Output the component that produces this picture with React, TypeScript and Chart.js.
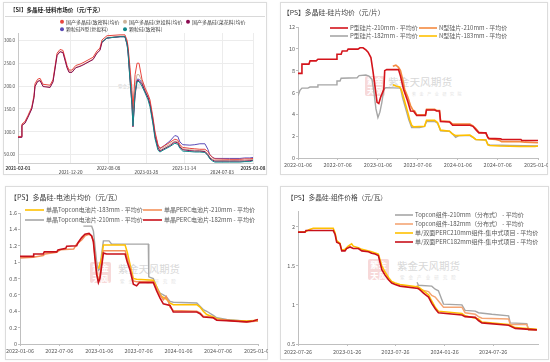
import React, { useEffect, useRef } from 'react';
import { Chart, registerables } from 'chart.js';

Chart.register(...registerables);

const FONT = '"Noto Sans CJK SC", "Noto Sans", "DejaVu Sans", sans-serif';
const AXIS = '#bfbfbf';
const LABEL = '#595959';

// ---------------- 【SI】多晶硅-硅料市场价 ----------------
const polyTitle = '【SI】多晶硅-硅料市场价（元/千克）';
const polyLabels = ['国产多晶硅(致密料)均价', '国产多晶硅(复投料)均价', '国产多晶硅(菜花料)均价', '颗粒硅N型(复投料)', '颗粒硅(致密料)'];
const polyColors = ['#e8463f', '#cdb49b', '#8b0a50', '#5b4bb7', '#11888a'];
const polyDates = [
  '2021-02-01', '2021-02-20', '2021-02-25', '2021-03-16', '2021-04-03', '2021-04-26', '2021-05-10', '2021-05-16', '2021-06-01', '2021-06-16',
  '2021-07-04', '2021-08-16', '2021-09-03', '2021-09-28', '2021-10-16', '2021-11-03', '2021-11-28', '2021-12-10', '2021-12-28', '2022-01-20',
  '2022-02-15', '2022-03-05', '2022-04-05', '2022-05-06', '2022-05-30', '2022-06-17', '2022-06-30', '2022-07-30', '2022-10-18', '2022-11-17',
  '2022-11-30', '2022-12-06', '2022-12-18', '2022-12-30', '2023-01-05', '2023-01-18', '2023-01-30', '2023-02-11', '2023-03-01', '2023-03-20',
  '2023-04-07', '2023-04-19', '2023-05-08', '2023-05-20', '2023-06-07', '2023-06-19', '2023-07-08', '2023-08-19', '2023-09-18', '2023-10-06',
  '2023-10-19', '2023-11-06', '2023-12-19', '2024-01-18', '2024-02-18', '2024-03-20', '2024-04-07', '2024-04-19', '2024-05-07', '2024-05-20',
  '2024-08-19', '2024-10-20', '2024-11-19', '2024-12-20', '2025-01-08',
];
const polyDense = [
  90, 90, 117, 123, 136, 154, 180, 205, 215, 217,
  204, 202, 214, 272, 280, 278, 245, 235, 235, 245,
  248, 251, 257, 263, 277, 283, 301, 310, 312, 312,
  300, 286, 240, 190, 150, 225, 250, 250, 215, 196,
  182, 170, 130, 100, 72, 64, 68, 77, 84, 82,
  72, 66, 64, 63, 62, 62, 57, 50, 44, 41,
  40, 40, 41, 41, 42,
];
const polyRecharge = [
  89, 89, 115, 120, 133, 151, 176, 200, 211, 213,
  200, 198, 210, 268, 276, 274, 241, 231, 231, 241,
  244, 247, 253, 259, 273, 279, 297, 306, 309, 309,
  296, 282, 230, 175, 135, 200, 225, 225, 210, 192,
  178, 165, 125, 95, 68, 60, 65, 73, 80, 78,
  69, 63, 61, 60, 59, 58, 52, 45, 40, 38,
  37, 38, 38, 39, 40,
];
const polyCauli = [
  88, 88, 114, 119, 132, 150, 175, 199, 210, 212,
  199, 197, 209, 267, 275, 273, 240, 230, 230, 240,
  243, 246, 252, 258, 272, 278, 296, 305, 308, 308,
  292, 275, 215, 160, 111, 180, 212, 212, 205, 188,
  175, 160, 120, 90, 65, 58, 62, 70, 78, 76,
  67, 61, 59, 58, 58, 57, 50, 43, 38, 36,
  36, 36, 36, 37, 38,
];
const polyGranN = [
  null, null, null, null, null, null, null, null, null, null,
  null, null, null, null, null, null, null, null, null, null,
  null, null, null, null, null, null, 296, 305, 308, 308,
  293, 278, 222, 170, 125, 190, 215, 215, 208, 190,
  177, 163, 125, 95, 70, 64, 68, 80, 92, 90,
  78, 72, 71, 72, 74, 74, 62, 50, 44, 42,
  42, 42, 43, 43, 44,
];
const polyGran = [
  null, null, null, null, null, null, null, null, null, null,
  null, null, null, null, null, null, null, null, null, null,
  null, null, null, null, null, null, 296, 305, 308, 308,
  290, 272, 212, 158, 113, 185, 210, 210, 200, 185,
  170, 155, 115, 85, 60, 56, 60, 68, 75, 73,
  64, 58, 57, 56, 56, 55, 48, 41, 36, 34,
  34, 34, 35, 35, 37,
];
const polyXTicks = ['2021-02-01', '2021-12-20', '2022-08-08', '2023-03-28', '2023-11-14', '2024-07-03', '2025-01-08'];
const polyYTicks = [50, 100, 150, 200, 250, 300];

// ---------------- 【PS】多晶硅-硅片均价 ----------------
const waferTitle = '【PS】多晶硅-硅片均价（元/片）';
const waferLabels = ['P型硅片-210mm - 平均价', 'N型硅片-210mm - 平均价', 'P型硅片-182mm - 平均价', 'N型硅片-183mm - 平均价'];
const waferP210 = [
  ['2022-01-06', 7.75], ['2022-01-20', 7.75], ['2022-01-24', 8.6], ['2022-02-25', 8.6], ['2022-03-02', 8.9], ['2022-03-30', 8.9],
  ['2022-04-07', 9.05], ['2022-06-29', 9.05], ['2022-07-03', 9.5], ['2022-07-22', 9.5], ['2022-07-27', 9.8], ['2022-08-18', 9.8],
  ['2022-08-23', 9.97], ['2022-10-07', 9.97], ['2022-10-16', 10.1], ['2022-10-30', 10.1], ['2022-11-12', 9.9], ['2022-11-22', 9.7],
  ['2022-12-05', 9.2], ['2022-12-14', 8.0], ['2022-12-24', 6.5], ['2023-01-02', 5.1], ['2023-01-10', 5.0], ['2023-01-19', 5.6],
  ['2023-02-02', 6.3], ['2023-02-06', 8.0], ['2023-02-15', 8.1], ['2023-04-10', 8.1], ['2023-04-19', 7.5], ['2023-05-03', 6.3],
  ['2023-05-22', 5.2], ['2023-06-04', 4.3], ['2023-06-18', 4.28], ['2023-07-02', 3.9], ['2023-08-11', 3.9], ['2023-08-16', 4.4],
  ['2023-09-22', 4.4], ['2023-10-01', 4.3], ['2023-10-14', 4.3], ['2023-10-19', 3.35], ['2023-11-29', 3.3], ['2023-12-13', 3.0],
  ['2024-03-01', 3.0], ['2024-03-15', 2.9], ['2024-03-28', 2.6], ['2024-04-11', 2.3], ['2024-05-13', 2.3], ['2024-05-22', 1.9],
  ['2024-05-27', 1.8], ['2024-07-20', 1.75], ['2024-07-24', 1.7], ['2024-10-20', 1.7], ['2024-10-24', 1.6], ['2025-01-06', 1.6],
];
const waferN210 = [
  ['2023-03-15', 8.4], ['2023-03-29', 8.5], ['2023-04-10', 8.3], ['2023-04-19', 8.0], ['2023-04-29', 7.2], ['2023-05-08', 6.3],
  ['2023-05-22', 5.6], ['2023-06-04', 4.8], ['2023-06-14', 4.4], ['2023-06-23', 4.3], ['2023-07-02', 3.95], ['2023-08-11', 3.95],
  ['2023-08-16', 4.45], ['2023-09-22', 4.45], ['2023-10-01', 4.35], ['2023-10-14', 4.35], ['2023-10-19', 3.4], ['2023-11-29', 3.35],
  ['2023-12-13', 3.1], ['2024-03-01', 3.1], ['2024-03-15', 2.95], ['2024-03-28', 2.7], ['2024-04-11', 2.35], ['2024-05-13', 2.3],
  ['2024-05-22', 1.85], ['2024-05-27', 1.75], ['2024-06-27', 1.7], ['2024-07-15', 1.6], ['2024-07-24', 1.5], ['2024-10-15', 1.5],
  ['2024-11-07', 1.45], ['2025-01-06', 1.4],
];
const waferP182 = [
  ['2022-01-06', 5.7], ['2022-01-15', 6.2], ['2022-01-24', 6.4], ['2022-02-20', 6.4], ['2022-03-02', 6.5], ['2022-04-03', 6.5],
  ['2022-04-07', 6.7], ['2022-06-29', 6.7], ['2022-07-03', 7.05], ['2022-07-17', 7.05], ['2022-07-22', 7.3], ['2022-10-03', 7.35],
  ['2022-10-12', 7.55], ['2022-11-12', 7.6], ['2022-11-26', 7.5], ['2022-12-10', 7.2], ['2022-12-19', 6.0], ['2022-12-28', 4.5],
  ['2023-01-06', 3.7], ['2023-01-15', 4.2], ['2023-01-24', 5.1], ['2023-02-02', 6.3], ['2023-02-11', 6.45], ['2023-04-19', 6.4],
  ['2023-04-29', 5.5], ['2023-05-13', 4.5], ['2023-05-27', 3.5], ['2023-06-09', 2.8], ['2023-07-15', 2.8], ['2023-08-07', 2.9],
  ['2023-08-16', 3.35], ['2023-09-22', 3.35], ['2023-10-05', 3.2], ['2023-10-19', 2.5], ['2023-11-29', 2.45], ['2023-12-13', 2.2],
  ['2023-12-27', 1.9], ['2024-01-10', 2.05], ['2024-03-01', 2.05], ['2024-03-15', 1.9], ['2024-03-28', 1.7], ['2024-05-13', 1.65],
  ['2024-05-22', 1.25], ['2024-05-31', 1.2], ['2024-08-30', 1.15], ['2025-01-06', 1.1],
];
const waferN183 = [
  ['2023-03-15', 6.7], ['2023-03-29', 6.6], ['2023-04-15', 6.5], ['2023-04-24', 6.2], ['2023-05-08', 5.2], ['2023-05-22', 4.2],
  ['2023-05-31', 3.5], ['2023-06-09', 3.0], ['2023-06-18', 2.85], ['2023-08-07', 2.9], ['2023-08-16', 3.45], ['2023-09-22', 3.45],
  ['2023-10-05', 3.25], ['2023-10-19', 2.55], ['2023-11-29', 2.45], ['2023-12-13', 2.2], ['2023-12-27', 2.05], ['2024-03-01', 2.1],
  ['2024-03-15', 1.9], ['2024-03-28', 1.7], ['2024-05-13', 1.65], ['2024-05-22', 1.2], ['2024-05-31', 1.15], ['2024-07-15', 1.1],
  ['2024-10-15', 1.05], ['2024-12-23', 1.05], ['2025-01-06', 1.1],
];
const waferXTicks = ['2022-01-06', '2022-07-06', '2023-01-06', '2023-07-06', '2024-01-06', '2024-07-06', '2025-01-06'];
const waferYTicks = [0, 2, 4, 6, 8, 10, 12];

// ---------------- 【PS】多晶硅-电池片均价 ----------------
const cellTitle = '【PS】多晶硅-电池片均价（元/瓦）';
const cellLabels = ['单晶Topcon电池片-183mm - 平均价', '单晶PERC电池片-210mm - 平均价', '单晶Topcon电池片-210mm - 平均价', '单晶PERC电池片-182mm - 平均价'];
const cellTopcon183 = [
  ['2023-01-02', 0.92], ['2023-01-17', 1.05], ['2023-01-25', 1.21], ['2023-05-05', 1.21], ['2023-05-15', 1.12], ['2023-05-28', 0.97],
  ['2023-06-12', 0.8], ['2023-06-27', 0.79], ['2023-09-12', 0.78], ['2023-09-20', 0.74], ['2023-10-05', 0.65], ['2023-10-20', 0.58],
  ['2023-11-10', 0.55], ['2023-11-28', 0.5], ['2023-12-13', 0.48], ['2024-03-30', 0.48], ['2024-04-14', 0.45], ['2024-04-29', 0.4],
  ['2024-05-15', 0.36], ['2024-06-14', 0.33], ['2024-06-30', 0.31], ['2024-08-15', 0.29], ['2024-11-15', 0.28], ['2025-01-06', 0.29],
];
const cellPerc210 = [
  ['2022-01-06', 1.05], ['2022-03-08', 1.06], ['2022-04-23', 1.08], ['2022-05-01', 1.1], ['2022-06-24', 1.12], ['2022-07-10', 1.15],
  ['2022-09-10', 1.16], ['2022-09-24', 1.22], ['2022-10-17', 1.27], ['2022-11-01', 1.32], ['2022-11-20', 1.34], ['2022-12-02', 1.32],
  ['2022-12-10', 1.26], ['2022-12-17', 1.08], ['2022-12-25', 0.88], ['2023-01-02', 0.78], ['2023-01-09', 0.82], ['2023-01-17', 0.98],
  ['2023-01-25', 1.14], ['2023-05-05', 1.14], ['2023-05-15', 1.05], ['2023-05-28', 0.93], ['2023-06-12', 0.77], ['2023-06-27', 0.76],
  ['2023-09-12', 0.76], ['2023-09-27', 0.68], ['2023-10-13', 0.6], ['2023-10-28', 0.54], ['2023-11-10', 0.58], ['2023-11-20', 0.52],
  ['2023-11-28', 0.45], ['2023-12-13', 0.41], ['2024-03-30', 0.4], ['2024-04-14', 0.38], ['2024-04-29', 0.34], ['2024-06-14', 0.32],
  ['2024-06-30', 0.3], ['2024-08-15', 0.29], ['2024-11-15', 0.27], ['2025-01-06', 0.28],
];
const cellTopcon210 = [
  ['2022-10-25', 1.44], ['2022-12-02', 1.44], ['2022-12-10', 1.38], ['2022-12-17', 1.2], ['2022-12-25', 1.0], ['2023-01-02', 0.9],
  ['2023-01-09', 0.92], ['2023-01-17', 1.1], ['2023-01-25', 1.26], ['2023-02-20', 1.26], ['2023-03-04', 1.22], ['2023-08-20', 1.22],
  ['2023-08-22', 0.82], ['2023-09-12', 0.8], ['2023-09-27', 0.7], ['2023-10-13', 0.62], ['2023-10-28', 0.6], ['2023-11-10', 0.58],
  ['2023-11-28', 0.52], ['2023-12-13', 0.51], ['2024-03-30', 0.5], ['2024-04-14', 0.46], ['2024-04-29', 0.42], ['2024-05-15', 0.4],
  ['2024-06-14', 0.35], ['2024-06-30', 0.32], ['2024-08-15', 0.3], ['2024-11-15', 0.28], ['2025-01-06', 0.28],
];
const cellPerc182 = [
  ['2022-01-06', 1.07], ['2022-03-08', 1.07], ['2022-03-10', 1.1], ['2022-04-23', 1.1], ['2022-04-28', 1.125], ['2022-06-24', 1.125],
  ['2022-06-30', 1.15], ['2022-08-05', 1.17], ['2022-08-09', 1.195], ['2022-09-24', 1.2], ['2022-10-01', 1.24], ['2022-10-17', 1.3],
  ['2022-11-01', 1.34], ['2022-11-20', 1.35], ['2022-12-02', 1.32], ['2022-12-10', 1.25], ['2022-12-17', 1.05], ['2022-12-25', 0.85],
  ['2023-01-02', 0.75], ['2023-01-09', 0.8], ['2023-01-17', 0.95], ['2023-01-25', 1.11], ['2023-02-09', 1.1], ['2023-05-05', 1.1],
  ['2023-05-15', 1.0], ['2023-05-28', 0.9], ['2023-06-12', 0.73], ['2023-06-27', 0.71], ['2023-07-10', 0.75], ['2023-09-12', 0.75],
  ['2023-09-27', 0.65], ['2023-10-13', 0.56], ['2023-10-28', 0.49], ['2023-11-28', 0.47], ['2023-12-13', 0.39], ['2024-03-30', 0.39],
  ['2024-04-14', 0.37], ['2024-04-29', 0.33], ['2024-06-14', 0.32], ['2024-06-30', 0.29], ['2024-08-15', 0.285], ['2024-11-15', 0.27],
  ['2024-12-15', 0.28], ['2024-12-25', 0.29], ['2025-01-06', 0.3],
];
const cellXTicks = ['2022-01-06', '2022-07-06', '2023-01-06', '2023-07-06', '2024-01-06', '2024-07-06', '2025-01-06'];
const cellYTicks = [0, 0.2, 0.4, 0.6, 0.8, 1, 1.2, 1.4, 1.6];

// ---------------- 【PS】多晶硅-组件价格 ----------------
const modTitle = '【PS】多晶硅-组件价格（元/瓦）';
const modLabels = ['Topcon组件-210mm（分布式） - 平均价', 'Topcon组件-182mm（分布式） - 平均价', '单/双面PERC210mm组件-集中式项目 - 平均价', '单/双面PERC182mm组件-集中式项目 - 平均价'];
const modTopcon210 = [
  ['2023-10-15', 1.29], ['2023-10-20', 1.25], ['2023-12-09', 1.24], ['2023-12-22', 1.2], ['2024-01-03', 1.18], ['2024-01-22', 1.01],
  ['2024-03-31', 1.0], ['2024-04-12', 0.93], ['2024-05-20', 0.92], ['2024-06-01', 0.9], ['2024-07-21', 0.88], ['2024-09-22', 0.86],
  ['2024-09-28', 0.77], ['2024-11-29', 0.76], ['2024-12-06', 0.68], ['2025-01-06', 0.68],
];
const modTopcon182 = [
  ['2023-10-15', 1.25], ['2023-10-20', 1.2], ['2023-11-27', 1.17], ['2023-12-09', 1.12], ['2023-12-22', 1.1], ['2024-01-03', 1.05],
  ['2024-01-22', 0.97], ['2024-03-31', 0.97], ['2024-04-12', 0.9], ['2024-05-20', 0.88], ['2024-06-01', 0.85], ['2024-06-14', 0.83],
  ['2024-09-22', 0.82], ['2024-09-28', 0.75], ['2024-11-29', 0.75], ['2024-12-06', 0.68], ['2025-01-06', 0.68],
];
const modPerc210 = [
  ['2022-07-26', 1.93], ['2022-08-21', 1.93], ['2022-09-05', 1.96], ['2022-09-21', 1.98], ['2022-12-05', 1.98], ['2022-12-12', 1.92],
  ['2022-12-18', 1.82], ['2022-12-30', 1.79], ['2023-01-06', 1.7], ['2023-01-18', 1.71], ['2023-01-30', 1.75], ['2023-02-12', 1.78],
  ['2023-02-18', 1.75], ['2023-03-09', 1.73], ['2023-03-22', 1.71], ['2023-04-28', 1.68], ['2023-05-23', 1.65], ['2023-06-05', 1.5],
  ['2023-06-17', 1.42], ['2023-06-30', 1.35], ['2023-07-12', 1.3], ['2023-07-25', 1.28], ['2023-08-12', 1.26], ['2023-10-20', 1.23],
  ['2023-11-08', 1.18], ['2023-11-27', 1.13], ['2023-12-09', 1.05], ['2023-12-22', 0.97], ['2024-01-03', 0.92], ['2024-03-31', 0.89],
  ['2024-04-12', 0.86], ['2024-06-01', 0.82], ['2024-06-14', 0.78], ['2024-09-22', 0.75], ['2024-10-17', 0.71], ['2025-01-06', 0.69],
];
const modPerc182 = [
  ['2022-07-26', 1.93], ['2022-08-21', 1.93], ['2022-08-25', 1.95], ['2022-12-05', 1.95], ['2022-12-12', 1.9], ['2022-12-18', 1.8],
  ['2022-12-30', 1.78], ['2023-01-06', 1.69], ['2023-01-18', 1.69], ['2023-01-24', 1.72], ['2023-02-06', 1.74], ['2023-02-18', 1.72],
  ['2023-03-09', 1.72], ['2023-03-22', 1.69], ['2023-04-16', 1.68], ['2023-04-28', 1.66], ['2023-05-11', 1.65], ['2023-05-23', 1.63],
  ['2023-06-05', 1.45], ['2023-06-17', 1.38], ['2023-06-30', 1.32], ['2023-07-12', 1.28], ['2023-07-25', 1.26], ['2023-08-12', 1.24],
  ['2023-10-20', 1.21], ['2023-11-08', 1.15], ['2023-11-27', 1.1], ['2023-12-09', 1.02], ['2023-12-22', 0.95], ['2024-01-03', 0.9],
  ['2024-03-31', 0.87], ['2024-04-12', 0.85], ['2024-05-20', 0.84], ['2024-06-01', 0.8], ['2024-06-14', 0.77], ['2024-09-22', 0.74],
  ['2024-10-17', 0.7], ['2025-01-06', 0.68],
];
const modXTicks = ['2022-07-26', '2023-01-26', '2023-07-26', '2024-01-26', '2024-07-26'];
const modYTicks = [0.5, 1, 1.5, 2];

// ---------------- helpers ----------------
const toDay = (s) => Date.UTC(+s.slice(0, 4), +s.slice(5, 7) - 1, +s.slice(8, 10)) / 864e5;
const fmtDay = (v) => new Date(Math.round(v) * 864e5).toISOString().slice(0, 10);
const pts = (list) => list.map(([d, v]) => ({ x: toDay(d), y: v }));
const zip = (dates, vals) => dates.map((d, i) => ({ x: toDay(d), y: vals[i] }));

const line = (label, color, data, width, order) => ({
  label, data, borderColor: color, backgroundColor: color, borderWidth: width,
  pointRadius: 0, tension: 0, fill: false, order, spanGaps: true,
});

function dateAxis(o) {
  return {
    type: 'linear', bounds: 'data', min: toDay(o.min), max: toDay(o.max),
    afterBuildTicks: (s) => { s.ticks = o.ticks.map((d) => ({ value: toDay(d) })); },
    afterFit: (s) => { s.height = o.h; s.paddingLeft = 0; s.paddingRight = 0; },
    ticks: {
      autoSkip: false, maxRotation: 0, minRotation: 0, padding: o.pad,
      color: o.color || LABEL, font: o.font || { family: FONT, size: 5.5 },
      callback: o.cb || ((v) => fmtDay(v)),
    },
    grid: o.grid || { drawOnChartArea: false, drawTicks: true, tickLength: 2, color: AXIS },
    border: { display: true, color: o.border || AXIS, width: 1 },
  };
}

function valueAxis(o) {
  return {
    type: 'linear', bounds: 'data', min: o.min, max: o.max,
    afterBuildTicks: (s) => { s.ticks = o.ticks.map((v) => ({ value: v })); },
    afterFit: (s) => { s.width = o.w; s.paddingTop = 0; s.paddingBottom = 0; },
    ticks: {
      autoSkip: false, padding: o.pad, color: o.color || LABEL,
      font: o.font || { family: FONT, size: 5.5 },
      callback: o.cb || ((v) => String(v)),
    },
    grid: o.grid || { drawOnChartArea: false, drawTicks: true, tickLength: 2, color: AXIS },
    border: { display: true, color: o.border || AXIS, width: 1 },
  };
}

function posLegend(cfg) {
  return {
    id: 'posLegend',
    afterDraw(chart) {
      const ctx = chart.ctx;
      ctx.save();
      ctx.font = `${cfg.size}px ${FONT}`;
      ctx.textBaseline = 'middle';
      ctx.textAlign = 'left';
      chart.data.datasets.forEach((ds, i) => {
        const p = cfg.pos[i];
        if (!p) return;
        if (cfg.marker === 'circle') {
          ctx.fillStyle = ds.borderColor;
          ctx.beginPath();
          ctx.arc(p[0], p[1], cfg.r, 0, Math.PI * 2);
          ctx.fill();
          ctx.fillStyle = cfg.color;
          ctx.fillText(ds.label, p[0] + cfg.r + 2, p[1]);
        } else {
          ctx.strokeStyle = ds.borderColor;
          ctx.lineWidth = cfg.lw;
          ctx.beginPath();
          ctx.moveTo(p[0], p[1]);
          ctx.lineTo(p[0] + cfg.len, p[1]);
          ctx.stroke();
          ctx.fillStyle = cfg.color;
          ctx.fillText(ds.label, p[0] + cfg.len + 2, p[1]);
        }
      });
      ctx.restore();
    },
  };
}

function baseOptions(pad, x, y) {
  return {
    responsive: false, animation: false, events: [],
    layout: { padding: pad },
    plugins: { legend: { display: false }, tooltip: { enabled: false }, title: { display: false } },
    scales: { x, y },
  };
}

// ---------------- chart configs ----------------
const polyConfig = () => ({
  type: 'line',
  data: {
    datasets: [
      line(polyLabels[0], polyColors[0], zip(polyDates, polyDense), 1, 2),
      line(polyLabels[1], polyColors[1], zip(polyDates, polyRecharge), 1, 3),
      line(polyLabels[2], polyColors[2], zip(polyDates, polyCauli), 1, 1),
      line(polyLabels[3], polyColors[3], zip(polyDates, polyGranN), 1, 4),
      line(polyLabels[4], polyColors[4], zip(polyDates, polyGran), 1, 0),
    ],
  },
  options: baseOptions(
    { left: 0, top: 31, right: 14, bottom: 0 },
    dateAxis({
      min: '2021-02-01', max: '2025-01-08', ticks: polyXTicks, h: 12, pad: 2.8, color: '#333',
      font: (c) => ({ family: FONT, size: 4.6, lineHeight: 0.95, weight: c.index === 0 || c.index === polyXTicks.length - 1 ? 'bold' : 'normal' }),
      cb: (v, i) => (i % 2 ? ['', fmtDay(v)] : fmtDay(v)),
      grid: { drawOnChartArea: true, drawTicks: false, color: '#ececec' },
      border: '#d0d0d0',
    }),
    valueAxis({
      min: 32, max: 316, ticks: polyYTicks, w: 15, pad: 3, color: '#444',
      font: { family: FONT, size: 4.4 },
      cb: (v) => (v === 50 ? '50.00' : v.toFixed(1)),
      grid: { drawOnChartArea: true, drawTicks: false, color: '#ececec' },
      border: '#c8c8c8',
    }),
  ),
  plugins: [posLegend({ marker: 'circle', r: 2, size: 5, color: '#404040', pos: [[59, 19.7], [122, 19.7], [185, 19.7], [59, 27.3], [122, 27.3]] })],
});

const waferConfig = () => ({
  type: 'line',
  data: {
    datasets: [
      line(waferLabels[0], '#d4141b', pts(waferP210), 1.6, 0),
      line(waferLabels[1], '#f4893f', pts(waferN210), 1.6, 1),
      line(waferLabels[2], '#a6a6a6', pts(waferP182), 1.4, 3),
      line(waferLabels[3], '#ffc000', pts(waferN183), 1.6, 2),
    ],
  },
  options: baseOptions(
    { left: 0, top: 25, right: 10, bottom: 0 },
    dateAxis({ min: '2022-01-06', max: '2025-01-06', ticks: waferXTicks, h: 17, pad: 2 }),
    valueAxis({ min: 0, max: 12, ticks: waferYTicks, w: 18, pad: 1 }),
  ),
  plugins: [posLegend({ marker: 'line', len: 18, lw: 1.6, size: 6, color: LABEL, pos: [[50, 26], [139, 26], [50, 34], [139, 34]] })],
});

const cellConfig = () => ({
  type: 'line',
  data: {
    datasets: [
      line(cellLabels[0], '#ffc000', pts(cellTopcon183), 1.5, 2),
      line(cellLabels[1], '#f4915a', pts(cellPerc210), 1.5, 1),
      line(cellLabels[2], '#a6a6a6', pts(cellTopcon210), 1.4, 3),
      line(cellLabels[3], '#c8101a', pts(cellPerc182), 1.6, 0),
    ],
  },
  options: baseOptions(
    { left: 0, top: 27, right: 10, bottom: 0 },
    dateAxis({ min: '2022-01-06', max: '2025-01-06', ticks: cellXTicks, h: 16, pad: 2 }),
    valueAxis({ min: 0, max: 1.6, ticks: cellYTicks, w: 15, pad: 1 }),
  ),
  plugins: [posLegend({ marker: 'line', len: 19, lw: 1.6, size: 6, color: LABEL, pos: [[20, 24], [138, 24], [20, 34], [138, 34]] })],
});

const modConfig = () => ({
  type: 'line',
  data: {
    datasets: [
      line(modLabels[0], '#a6a6a6', pts(modTopcon210), 1.4, 3),
      line(modLabels[1], '#f4a574', pts(modTopcon182), 1.5, 2),
      line(modLabels[2], '#ffc000', pts(modPerc210), 1.5, 1),
      line(modLabels[3], '#c8101a', pts(modPerc182), 1.6, 0),
    ],
  },
  options: baseOptions(
    { left: 0, top: 25, right: 11, bottom: 0 },
    dateAxis({ min: '2022-07-26', max: '2025-01-10', ticks: modXTicks, h: 16, pad: 3 }),
    valueAxis({ min: 0.5, max: 2.2, ticks: modYTicks, w: 18, pad: 1 }),
  ),
  plugins: [posLegend({ marker: 'line', len: 18, lw: 1.6, size: 6, color: LABEL, pos: [[115, 29], [115, 38], [115, 47], [115, 56]] })],
});

// ---------------- components ----------------
function ChartCanvas({ left, top, width, height, config }) {
  const ref = useRef(null);
  useEffect(() => {
    const chart = new Chart(ref.current, config());
    return () => chart.destroy();
  }, []);
  return <canvas ref={ref} width={width} height={height} style={{ position: 'absolute', left, top, width, height }} />;
}

function Box({ l, t, w, h }) {
  return <div style={{ position: 'absolute', left: l, top: t, width: w, height: h, border: '1px solid #dcdcdc', boxSizing: 'border-box', boxShadow: '0 0 2px rgba(0,0,0,0.06)' }} />;
}

function Title({ l, cy, size, text, bold }) {
  return (
    <div style={{ position: 'absolute', left: l, top: cy - size / 2, fontSize: size, lineHeight: 1, whiteSpace: 'nowrap', color: bold ? '#262626' : '#404040', fontWeight: bold ? 'bold' : 'normal', fontFamily: FONT }}>
      {text}
    </div>
  );
}

function Watermark({ x, y, size, tx, ty, fs, sx, sy, ss }) {
  return (
    <>
      <div style={{ position: 'absolute', left: x, top: y, width: size, height: size, background: '#f6d3d3', borderRadius: 2, color: '#fff', fontSize: size * 0.4, lineHeight: `${size / 2}px`, textAlign: 'center', fontWeight: 'bold', fontFamily: FONT, opacity: 0.85 }}>
        紫金<br />天风
      </div>
      <div style={{ position: 'absolute', left: tx, top: ty, fontSize: fs, lineHeight: 1, color: '#d8d8d8', whiteSpace: 'nowrap', fontFamily: FONT }}>紫金天风期货</div>
      <div style={{ position: 'absolute', left: sx, top: sy, fontSize: ss, lineHeight: 1, color: '#e2e2e2', letterSpacing: ss * 0.9, whiteSpace: 'nowrap', fontFamily: FONT }}>紫金产业研究院</div>
    </>
  );
}

export default function App() {
  return (
    <div style={{ position: 'absolute', left: 0, top: 0, width: 550, height: 362, background: '#fff', overflow: 'hidden', fontFamily: FONT }}>
      <Box l={3} t={2} w={264} h={173} />
      <Box l={280} t={2} w={268} h={173} />
      <Box l={5} t={186} w={263} h={174} />
      <Box l={280} t={186} w={269} h={174} />
      <div style={{ position: 'absolute', left: 5, top: 16, width: 260, borderTop: '1px solid #d9d9d9' }} />

      <div style={{ position: 'absolute', left: 118, top: 84, fontSize: 4.5, lineHeight: 1, color: '#d0d0d0', whiteSpace: 'nowrap', fontFamily: FONT }}>紫金天风期货</div>
      <Watermark x={365} y={76} size={20} tx={388} ty={77} fs={10.7} sx={412} sy={92} ss={4} />
      <Watermark x={90} y={262} size={21} tx={118} ty={264} fs={10.3} sx={120} sy={279} ss={4.5} />
      <Watermark x={368} y={259} size={21} tx={397} ty={261} fs={10.5} sx={400} sy={275} ss={4.5} />

      <ChartCanvas left={3} top={2} width={264} height={173} config={polyConfig} />
      <ChartCanvas left={280} top={2} width={268} height={173} config={waferConfig} />
      <ChartCanvas left={5} top={186} width={263} height={174} config={cellConfig} />
      <ChartCanvas left={280} top={186} width={269} height={174} config={modConfig} />

      <Title l={10} cy={11} size={5.6} text={polyTitle} bold />
      <Title l={283} cy={12} size={6.8} text={waferTitle} />
      <Title l={10} cy={197} size={7} text={cellTitle} />
      <Title l={287} cy={197} size={6.7} text={modTitle} />
    </div>
  );
}
